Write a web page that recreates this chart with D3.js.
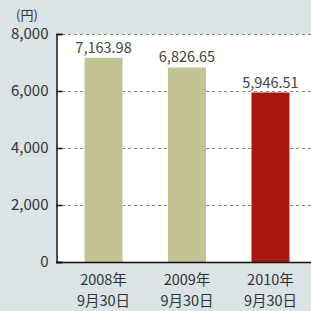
<!DOCTYPE html>
<html>
<head>
<meta charset="utf-8">
<script src="https://d3js.org/d3.v7.min.js"></script>
<style>
  html, body { margin: 0; padding: 0; background: #dae3e5; }
  svg text { font-family: "Noto Sans CJK JP", "Noto Sans", sans-serif; }
</style>
</head>
<body>
<div id="chart"></div>
<script>
// data
const years = ["2008年", "2009年", "2010年"];
const dates = ["9月30日", "9月30日", "9月30日"];
const values = [7163.98, 6826.65, 5946.51];
const valueLabels = ["7,163.98", "6,826.65", "5,946.51"];
const yTicks = [0, 2000, 4000, 6000, 8000];

const width = 311, height = 311;
const plotLeft = 56, plotTop = 34, plotBottom = 262;

const svg = d3.select("#chart").append("svg")
    .attr("width", width)
    .attr("height", height)
    .style("display", "block");

// plot area
svg.append("rect")
    .attr("x", plotLeft).attr("y", plotTop)
    .attr("width", width - plotLeft).attr("height", plotBottom - plotTop)
    .attr("fill", "#fff");

const x = d3.scaleBand()
    .domain(years)
    .range([62, 312])
    .paddingInner(0.545)
    .paddingOuter(0.27);

const y = d3.scaleLinear()
    .domain([0, 8000])
    .range([plotBottom, plotTop]);

// grid lines
svg.append("g")
    .selectAll("line")
    .data(yTicks.filter(d => d > 0))
    .join("line")
    .attr("x1", plotLeft).attr("x2", width)
    .attr("y1", d => y(d) + 0.5).attr("y2", d => y(d) + 0.5)
    .attr("stroke", "#8a8a8a")
    .attr("stroke-dasharray", "3,3");

// bars
svg.append("g")
    .selectAll("rect")
    .data(values)
    .join("rect")
    .attr("x", (d, i) => x(years[i]))
    .attr("width", x.bandwidth())
    .attr("y", d => y(d))
    .attr("height", d => plotBottom - y(d))
    .attr("fill", (d, i) => i === 2 ? "#a8180e" : "#c2c292");

// value labels
svg.append("g")
    .selectAll("text")
    .data(values)
    .join("text")
    .attr("x", (d, i) => x(years[i]) + x.bandwidth() / 2)
    .attr("y", d => y(d) - 5)
    .attr("text-anchor", "middle")
    .attr("font-size", 14.5)
    .attr("fill", "#444")
    .text((d, i) => valueLabels[i]);

// y axis
const yAxis = d3.axisLeft(y)
    .tickValues(yTicks)
    .tickSize(-6)
    .tickPadding(8)
    .tickFormat(d3.format(","));
const ya = svg.append("g")
    .attr("transform", `translate(${plotLeft + 0.5},0)`)
    .call(yAxis);
ya.select(".domain").attr("stroke", "#111").attr("stroke-width", 1.5);
ya.selectAll(".tick line").attr("stroke", "#111").attr("stroke-width", 1.5);
ya.selectAll(".tick text")
    .attr("font-size", 15)
    .attr("fill", "#333")
    .attr("font-family", "'Noto Sans CJK JP', sans-serif");

// x axis line
svg.append("line")
    .attr("x1", plotLeft).attr("x2", width)
    .attr("y1", plotBottom + 0.5).attr("y2", plotBottom + 0.5)
    .attr("stroke", "#111")
    .attr("stroke-width", 1.5);

// x labels, two lines each
const xg = svg.append("g")
    .attr("text-anchor", "middle")
    .attr("font-size", 14.5)
    .attr("fill", "#333");
xg.selectAll("text.yr")
    .data(years)
    .join("text")
    .attr("class", "yr")
    .attr("x", d => x(d) + x.bandwidth() / 2)
    .attr("y", 285)
    .text(d => d);
xg.selectAll("text.dt")
    .data(dates)
    .join("text")
    .attr("class", "dt")
    .attr("x", (d, i) => x(years[i]) + x.bandwidth() / 2)
    .attr("y", 306)
    .text(d => d);

// unit
svg.append("text")
    .attr("x", 16).attr("y", 20)
    .attr("font-size", 13)
    .attr("fill", "#333")
    .text("(円)");
</script>
</body>
</html>
